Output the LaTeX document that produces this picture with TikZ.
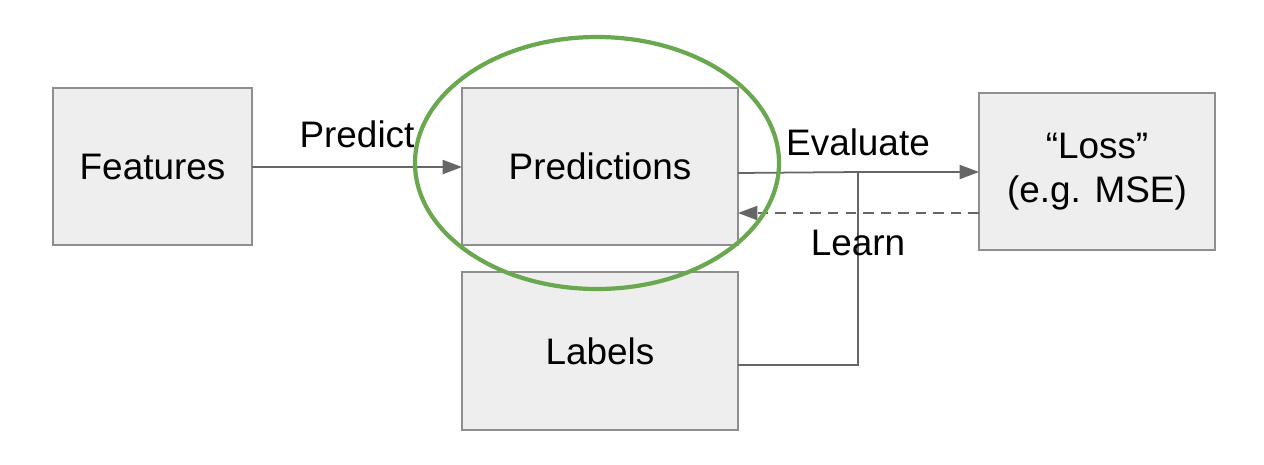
\documentclass[tikz,border=0pt]{standalone}
\usepackage{fontspec}
\setmainfont{Liberation Sans}
\usetikzlibrary{arrows.meta}
\definecolor{boxfill}{HTML}{EEEEEE}
\definecolor{boxdraw}{HTML}{8E8E8E}
\definecolor{arr}{HTML}{666666}
\definecolor{grn}{HTML}{6AA84F}
\begin{document}
\begin{tikzpicture}[x=0.02cm,y=-0.02cm,
  box/.style={draw=boxdraw,fill=boxfill,line width=1.2pt,inner sep=0pt,outer sep=0pt,
    font=\fontsize{21}{25}\selectfont,align=center},
  conn/.style={draw=arr,line width=1pt},
  tip/.style={-{Triangle[length=11pt,width=8pt]}},
  lbl/.style={font=\fontsize{21}{25}\selectfont,inner sep=0pt}]
\useasboundingbox (0,0) rectangle (1264,464);
\node[box,minimum width=3.98cm,minimum height=3.14cm] (feat) at (152.5,166.5) {Features};
\node[box,minimum width=5.52cm,minimum height=3.14cm] (pred) at (600,166.5) {Predictions};
\node[box,minimum width=5.52cm,minimum height=3.16cm] (lab) at (600,351) {Labels};
\node[box,minimum width=4.72cm,minimum height=3.14cm] (loss) at (1097,171.5) {``Loss''\\(e.g. MSE)};
\coordinate (j) at (858,172);
\draw[conn,tip] (feat.east |- 0,167) -- (pred.west |- 0,167);
\draw[conn] (pred.east |- 0,173) -- (j);
\draw[conn,tip] (lab.east |- 0,365) -| (j) -- (loss.west |- j);
\draw[conn,dashed,dash pattern=on 6pt off 4pt,tip] (loss.west |- 0,213) -- (pred.east |- 0,213);
\node[lbl] (lp) at (357,134) {Predict};
\node[lbl] (le) at (858,142) {Evaluate};
\node[lbl] (ll) at (858,243) {Learn};
\draw[grn,line width=2.4pt] (597,163) ellipse [x radius=182, y radius=126];
\end{tikzpicture}
\end{document}
